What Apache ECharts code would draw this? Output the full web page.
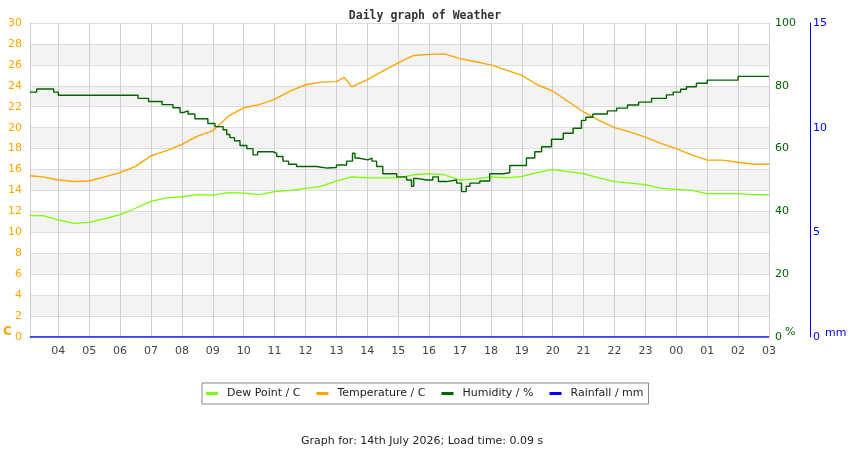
<!DOCTYPE html>
<html>
<head>
<meta charset="utf-8">
<script src="https://cdn.jsdelivr.net/npm/echarts@6/dist/echarts.min.js"></script>
<style>html,body{margin:0;padding:0;background:#fff;}#c{width:850px;height:450px;}</style>
</head>
<body>
<div id="c"></div>
<script>
// time in decimal hours (24+ = next day)
var times = [3.08, 3.5, 4.0, 4.5, 5.0, 5.5, 6.0, 6.5, 7.0, 7.5, 8.0, 8.5, 9.0, 9.5, 10.0, 10.5, 11.0, 11.5, 12.0, 12.5, 13.0, 13.25, 13.5, 14.0, 14.5, 15.0, 15.5, 16.0, 16.5, 17.0, 17.5, 18.0, 18.5, 19.0, 19.5, 20.0, 20.5, 21.0, 21.5, 22.0, 22.5, 23.0, 23.5, 24.0, 24.5, 25.0, 25.5, 26.0, 26.5, 27.0];
var temperature = [15.4, 15.3, 15.0, 14.85, 14.9, 15.3, 15.7, 16.3, 17.3, 17.8, 18.4, 19.2, 19.7, 21.1, 21.9, 22.2, 22.7, 23.5, 24.1, 24.35, 24.4, 24.8, 23.9, 24.6, 25.4, 26.2, 26.9, 27.0, 27.05, 26.6, 26.3, 26.0, 25.5, 25.0, 24.1, 23.5, 22.5, 21.5, 20.7, 20.0, 19.6, 19.1, 18.5, 18.0, 17.4, 16.9, 16.9, 16.7, 16.5, 16.5];
var dewPoint = [11.6, 11.6, 11.2, 10.85, 10.95, 11.3, 11.7, 12.3, 12.95, 13.3, 13.4, 13.6, 13.55, 13.8, 13.75, 13.6, 13.9, 14.0, 14.2, 14.4, 14.9, 15.1, 15.3, 15.2, 15.2, 15.2, 15.5, 15.6, 15.5, 15.0, 15.1, 15.3, 15.2, 15.35, 15.7, 16.0, 15.8, 15.6, 15.2, 14.85, 14.7, 14.55, 14.2, 14.1, 14.0, 13.7, 13.7, 13.7, 13.6, 13.6];
var rainfall = [0, 0, 0, 0, 0, 0, 0, 0, 0, 0, 0, 0, 0, 0, 0, 0, 0, 0, 0, 0, 0, 0, 0, 0, 0, 0, 0, 0, 0, 0, 0, 0, 0, 0, 0, 0, 0, 0, 0, 0, 0, 0, 0, 0, 0, 0, 0, 0, 0, 0];
// humidity change points (stepped)
var humidityTimes = [3.08, 3.3, 3.85, 4.0, 6.58, 6.92, 7.36, 7.71, 7.94, 8.05, 8.2, 8.42, 8.84, 9.07, 9.33, 9.45, 9.55, 9.7, 9.88, 10.1, 10.3, 10.45, 10.95, 11.07, 11.27, 11.45, 11.71, 12.36, 12.7, 13.0, 13.33, 13.52, 13.6, 13.7, 14.02, 14.15, 14.3, 14.5, 14.95, 15.27, 15.43, 15.5, 15.59, 15.92, 16.12, 16.3, 16.56, 16.89, 17.05, 17.2, 17.32, 17.64, 17.96, 18.4, 18.61, 19.15, 19.42, 19.64, 19.96, 20.34, 20.66, 20.93, 21.07, 21.3, 21.77, 22.07, 22.42, 22.78, 23.2, 23.68, 23.9, 24.14, 24.33, 24.65, 25.0, 26.0, 27.0];
var humidity = [78, 79, 78, 77, 76, 75, 74, 73, 71.5, 72, 71, 69.5, 68, 67, 66, 64.5, 63.5, 62.5, 61, 60, 58, 59, 58.5, 57.5, 56, 55, 54.3, 53.8, 54, 54.8, 56, 58.5, 57, 56.4, 57, 56, 54.3, 52, 51, 50, 48, 50.5, 50, 50, 51, 49.5, 50, 49, 46.3, 48, 49, 49.7, 52, 52.3, 54.6, 57, 59, 60.6, 63, 64.9, 66.5, 69, 70, 71, 72, 72.9, 73.9, 74.8, 76, 77.1, 78, 78.9, 79.7, 80.8, 81.8, 83.0, 83.0];
var hourTicks = [4, 5, 6, 7, 8, 9, 10, 11, 12, 13, 14, 15, 16, 17, 18, 19, 20, 21, 22, 23, 24, 25, 26, 27];

function zip(xs, ys) { return xs.map(function (x, i) { return [x, ys[i]]; }); }

var chart = echarts.init(document.getElementById('c'), null, { renderer: 'canvas' });
var font = 'DejaVu Sans, sans-serif';
chart.setOption({
  animation: false,
  backgroundColor: '#ffffff',
  title: [
    { text: 'Daily graph of Weather', left: 'center', top: 5,
      textStyle: { fontFamily: 'DejaVu Sans Mono, monospace', fontWeight: 'bold', fontSize: 11.5, color: '#333' } },
    { text: 'Graph for: 14th July 2026; Load time: 0.09 s', left: 296, top: 431,
      textStyle: { fontFamily: font, fontWeight: 'normal', fontSize: 11, color: '#222' } }
  ],
  legend: {
    left: 202, top: 383,
    orient: 'horizontal',
    padding: [5, 5, 5, 4],
    borderColor: '#888', borderWidth: 1,
    itemWidth: 12, itemHeight: 3, itemGap: 16,
    icon: 'rect',
    textStyle: { fontFamily: font, fontSize: 11, color: '#222', padding: [0, 0, 0, 4] },
    data: ['Dew Point / C', 'Temperature / C', 'Humidity / %', 'Rainfall / mm']
  },
  grid: { left: 30, right: 81, top: 23, bottom: 113, containLabel: false },
  xAxis: {
    type: 'value', min: 3.0833, max: 27,
    axisLine: { show: true, lineStyle: { color: '#ccc' } },
    axisTick: { show: false, customValues: hourTicks },
    axisLabel: { customValues: hourTicks, margin: 9, fontFamily: font, fontSize: 11, color: '#444',
      formatter: function (v) { var h = Math.round(v) % 24; return (h < 10 ? '0' : '') + h; } },
    splitLine: { show: true, lineStyle: { color: '#d0d0d0', width: 1 } }
  },
  yAxis: [
    { type: 'value', min: 0, max: 30, interval: 2, position: 'left',
      axisLine: { show: true, lineStyle: { color: '#ccc' } },
      axisTick: { show: false },
      axisLabel: { margin: 8, fontFamily: font, fontSize: 11, color: '#FFA500' },
      splitLine: { show: true, lineStyle: { color: '#dddddd' } },
      splitArea: { show: true, areaStyle: { color: ['#ffffff', '#f3f3f3'] } } },
    { type: 'value', min: 0, max: 100, interval: 20, position: 'right',
      axisLine: { show: false }, axisTick: { show: false },
      axisLabel: { margin: 6, fontFamily: font, fontSize: 11, color: '#006400' },
      splitLine: { show: false } },
    { type: 'value', min: 0, max: 15, interval: 5, position: 'right', offset: 41,
      axisLine: { show: true, lineStyle: { color: '#0000ff', width: 1 } }, axisTick: { show: false },
      axisLabel: { margin: 3, fontFamily: font, fontSize: 11, color: '#0000ff' },
      splitLine: { show: false } }
  ],
  graphic: [
    { type: 'text', left: 3, top: 326, style: { text: 'C', fill: '#FFA500', font: 'bold 12px DejaVu Sans' } },
    { type: 'text', left: 785, top: 327, style: { text: '%', fill: '#006400', font: '11px DejaVu Sans' } },
    { type: 'text', left: 825, top: 328, style: { text: 'mm', fill: '#0000ff', font: '11px DejaVu Sans' } }
  ],
  series: [
    { name: 'Dew Point / C', type: 'line', yAxisIndex: 0, showSymbol: false, color: '#7CFC00',
      lineStyle: { width: 1.3, color: '#7CFC00' }, data: zip(times, dewPoint) },
    { name: 'Temperature / C', type: 'line', yAxisIndex: 0, showSymbol: false, color: '#FFA500',
      lineStyle: { width: 1.4, color: '#FFA500' }, data: zip(times, temperature) },
    { name: 'Humidity / %', type: 'line', yAxisIndex: 1, showSymbol: false, step: 'end', color: '#006400',
      lineStyle: { width: 1.4, color: '#006400' }, data: zip(humidityTimes, humidity) },
    { name: 'Rainfall / mm', type: 'line', yAxisIndex: 2, showSymbol: false, color: '#0000ff',
      lineStyle: { width: 1.5, color: '#0000ff' }, data: zip(times, rainfall) }
  ]
});
</script>
</body>
</html>
